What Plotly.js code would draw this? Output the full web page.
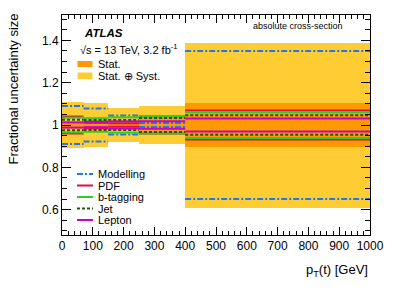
<!DOCTYPE html>
<html><head><meta charset="utf-8">
<script src="https://cdn.plot.ly/plotly-3.0.1.min.js"></script>
<style>html,body{margin:0;padding:0;background:#fff}#c{width:411px;height:295px}</style>
</head><body><div id="c"></div>
<script>
// Bin edges of pT(t) [GeV]
const binEdges = [0, 70, 150, 250, 400, 1000];
// Fractional uncertainties (half-size, symmetric around 1)
const statSystErr = [0.108, 0.105, 0.080, 0.090, 0.390];
const statErr     = [0.020, 0.025, 0.020, 0.035, 0.104];
const modellingErr= [0.090, 0.078, 0.045, 0.010, 0.350];
const pdfErr      = [0.040, 0.015, 0.008, 0.040, 0.068];
const btagErr     = [0.035, 0.032, 0.036, 0.040, 0.062];
const jetErr      = [0.025, 0.024, 0.024, 0.033, 0.046];
const leptonErr   = [0.012, 0.010, 0.017, 0.018, 0.031];
const seriesNames = ["Modelling", "PDF", "b-tagging", "Jet", "Lepton"];
const xTitle = "p<sub>T</sub>(t) [GeV]";
const yTitle = "Fractional uncertainty size";

const centers = binEdges.slice(0, -1).map((e, i) => (e + binEdges[i + 1]) / 2);
const widths = binEdges.slice(0, -1).map((e, i) => binEdges[i + 1] - e);

function band(err, color) {
  return {type: 'bar', x: centers, width: widths, base: err.map(e => 1 - e), y: err.map(e => 2 * e),
    marker: {color: color, line: {width: 0}}, showlegend: false, hoverinfo: 'skip'};
}
function segs(err, color, dash, w) {
  const x = [], y = [];
  for (const s of [1, -1]) {
    err.forEach((e, i) => { x.push(binEdges[i], binEdges[i + 1], null); y.push(1 + s * e, 1 + s * e, null); });
  }
  return {type: 'scatter', mode: 'lines', x: x, y: y, line: {color: color, dash: dash, width: w},
    showlegend: false, hoverinfo: 'skip', connectgaps: false};
}
const cYellow = '#FFCC33', cOrange = '#FF9900';
const lineStyles = [
  {err: modellingErr, color: '#2277EE', dash: '6px,2px,2px,2px', w: 2},
  {err: pdfErr, color: '#DD1144', dash: 'solid', w: 2},
  {err: btagErr, color: '#33CC22', dash: 'solid', w: 2},
  {err: jetErr, color: '#225511', dash: '3px,2px', w: 2},
  {err: leptonErr, color: '#CC00CC', dash: 'solid', w: 2}
];
const data = [band(statSystErr, cYellow), band(statErr, cOrange)]
  .concat(lineStyles.map(s => segs(s.err, s.color, s.dash, s.w)));

// layout helpers (pixel -> paper)
const L = 62, T = 15, W = 308, H = 220;
const px = v => (v - L) / W, py = v => (T + H - v) / H;
const font = 'Liberation Sans, Arial, sans-serif';
const shapes = [], ann = [];
// upper legend boxes
[[61, 67, cOrange, 'Stat.'], [72.5, 79, cYellow, 'Stat. \u2295 Syst.']].forEach(b => {
  shapes.push({type: 'rect', xref: 'paper', yref: 'paper', x0: px(77.5), x1: px(92.5), y0: py(b[1]), y1: py(b[0]),
    fillcolor: b[2], line: {width: 0}});
  ann.push({xref: 'paper', yref: 'paper', x: px(96), y: py((b[0] + b[1]) / 2), xanchor: 'left', yanchor: 'middle',
    text: b[3], showarrow: false, font: {family: font, size: 11, color: '#000'}});
});
// lower legend lines
const legY = [174, 185.5, 197, 208.5, 220];
lineStyles.forEach((s, i) => {
  shapes.push({type: 'line', xref: 'paper', yref: 'paper', x0: px(77), x1: px(93), y0: py(legY[i]), y1: py(legY[i]),
    line: {color: s.color, dash: s.dash, width: 2}});
  ann.push({xref: 'paper', yref: 'paper', x: px(96), y: py(legY[i]), xanchor: 'left', yanchor: 'middle',
    text: seriesNames[i], showarrow: false, font: {family: font, size: 11, color: '#000'}});
});
ann.push({xref: 'paper', yref: 'paper', x: px(82), y: py(33), xanchor: 'left', yanchor: 'middle',
  text: '<b><i>ATLAS</i></b>', showarrow: false, font: {family: font, size: 11.5, color: '#000'}});
ann.push({xref: 'paper', yref: 'paper', x: px(78), y: py(49), xanchor: 'left', yanchor: 'middle',
  text: '\u221As = 13 TeV, 3.2 fb<sup>-1</sup>', showarrow: false, font: {family: font, size: 11, color: '#000'}});
ann.push({xref: 'paper', yref: 'paper', x: px(345), y: py(26), xanchor: 'right', yanchor: 'middle',
  text: 'absolute cross-section', showarrow: false, font: {family: font, size: 9, color: '#000'}});
ann.push({xref: 'paper', yref: 'paper', x: px(370), y: py(270), xanchor: 'right', yanchor: 'middle',
  text: xTitle, showarrow: false, font: {family: font, size: 13, color: '#000'}});
ann.push({xref: 'paper', yref: 'paper', x: px(13), y: py(12), xanchor: 'center', yanchor: 'top', textangle: -90,
  text: yTitle, showarrow: false, font: {family: font, size: 13, color: '#000'}});

const layout = {
  width: 411, height: 295, margin: {l: L, r: 411 - L - W, t: T, b: 295 - T - H},
  paper_bgcolor: '#fff', plot_bgcolor: '#fff', barmode: 'overlay', bargap: 0, showlegend: false,
  font: {family: font, size: 12, color: '#000'},
  xaxis: {range: [0, 1000], tickvals: [0,100,200,300,400,500,600,700,800,900,1000], ticks: 'inside', ticklen: 8,
    tickcolor: '#000', showline: true, linecolor: '#000', linewidth: 1, mirror: 'allticks', showgrid: false, zeroline: false,
    minor: {dtick: 20, ticks: 'inside', ticklen: 4, tickcolor: '#000', showgrid: false},
    tickfont: {family: font, size: 12}},
  yaxis: {range: [0.48, 1.52], tickvals: [0.6, 0.8, 1, 1.2, 1.4], ticks: 'inside', ticklen: 9,
    tickcolor: '#000', showline: true, linecolor: '#000', linewidth: 1, mirror: 'allticks', showgrid: false, zeroline: false,
    minor: {dtick: 0.05, tick0: 0.5, ticks: 'inside', ticklen: 5, tickcolor: '#000', showgrid: false},
    tickfont: {family: font, size: 12}},
  shapes: shapes, annotations: ann
};
Plotly.newPlot('c', data, layout, {staticPlot: true, displayModeBar: false});
</script></body></html>
